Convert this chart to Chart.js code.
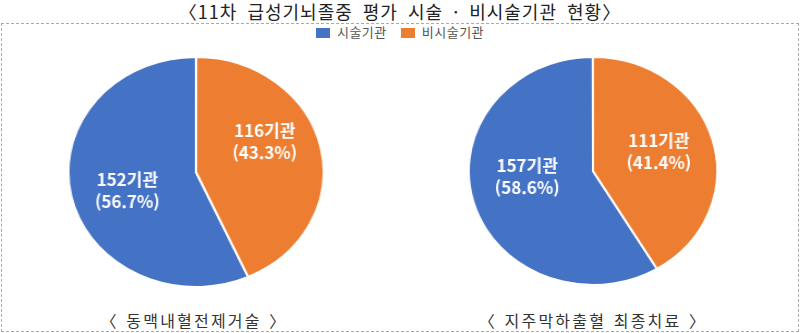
<!DOCTYPE html>
<html lang="ko">
<head>
<meta charset="utf-8">
<script src="https://cdn.jsdelivr.net/npm/chart.js@4/dist/chart.umd.min.js"></script>
<style>
  body { margin: 0; background: #fff; }
  #wrap { position: relative; width: 800px; height: 333px; overflow: hidden; font-family: "Noto Sans CJK KR", "Noto Sans", sans-serif; }
  #title { position: absolute; top: 0; left: 0; width: 800px; text-align: center; font-size: 18px; line-height: 23px; color: #222; letter-spacing: 1px; word-spacing: 4px; }
  #box { position: absolute; left: 1px; top: 23px; width: 796px; height: 307px; border: 1px dashed #aaa; }
  #legend { position: absolute; top: 24px; left: 0; width: 800px; text-align: center; font-size: 13px; line-height: 16px; color: #555; letter-spacing: 0.5px; }
  #legend span.sw { display: inline-block; width: 14px; height: 10px; vertical-align: -1px; margin-right: 7px; }
  #legend span.item { margin: 0 7px; }
  .pie { position: absolute; }
  .cap { position: absolute; top: 308px; width: 300px; text-align: center; font-size: 16px; color: #333; letter-spacing: 2.2px; word-spacing: 1px; }
</style>
</head>
<body>
<div id="wrap">
  <div id="title">〈11차 급성기뇌졸중 평가 시술 · 비시술기관 현황〉</div>
  <div id="box"></div>
  <div id="legend"></div>
  <canvas id="pie1" class="pie" width="232" height="232"></canvas>
  <canvas id="pie2" class="pie" width="230" height="230"></canvas>
  <div class="cap" id="cap1"></div>
  <div class="cap" id="cap2"></div>
</div>
<script>
const categories = ["시술기관", "비시술기관"];
const colors = ["#4472C4", "#ED7D31"];
const procedures = ["〈 동맥내혈전제거술 〉", "〈 지주막하출혈 최종치료 〉"];
const counts1 = [152, 116];
const percents1 = [56.7, 43.3];
const counts2 = [157, 111];
const percents2 = [58.6, 41.4];

// legend
const legend = document.getElementById("legend");
categories.forEach((c, i) => {
  const s = document.createElement("span");
  s.className = "item";
  s.innerHTML = `<span class="sw" style="background:${colors[i]}"></span>${c}`;
  legend.appendChild(s);
});

// slice labels, drawn unstretched
const labelPlugin = {
  id: "sliceLabels",
  afterDatasetsDraw(chart, args, opts) {
    const ctx = chart.ctx;
    const meta = chart.getDatasetMeta(0);
    const ds = chart.data.datasets[0];
    meta.data.forEach((arc, i) => {
      const mid = (arc.startAngle + arc.endAngle) / 2;
      const r = arc.outerRadius * 0.55;
      const x = arc.x + Math.cos(mid) * r;
      const y = arc.y + Math.sin(mid) * r + (opts.dy ? opts.dy[i] : 0);
      ctx.save();
      ctx.translate(x, y);
      ctx.scale(1 / opts.sx, 1);
      ctx.fillStyle = "#fff";
      ctx.font = 'bold 17px "Noto Sans CJK KR", sans-serif';
      ctx.textAlign = "center";
      ctx.textBaseline = "middle";
      ctx.fillText(ds.data[i] + "기관", 0, -11);
      ctx.fillText("(" + ds.pct[i].toFixed(1) + "%)", 0, 11);
      ctx.restore();
    });
  }
};

function makePie(id, counts, pcts, cx, cy, sx, dy) {
  const cv = document.getElementById(id);
  cv.style.left = (cx - cv.width / 2) + "px";
  cv.style.top = (cy - cv.height / 2) + "px";
  cv.style.transform = `scaleX(${sx})`;
  new Chart(cv, {
    type: "pie",
    data: {
      labels: categories,
      datasets: [{
        data: counts,
        pct: pcts,
        backgroundColor: colors,
        borderColor: "#fff",
        borderWidth: 2
      }]
    },
    options: {
      responsive: false,
      animation: false,
      rotation: pcts[1] * 3.6,
      layout: { padding: 0 },
      plugins: {
        legend: { display: false },
        tooltip: { enabled: false },
        sliceLabels: { sx: sx, dy: dy }
      }
    },
    plugins: [labelPlugin]
  });
}

makePie("pie1", counts1, percents1, 196, 172, 1.11, [5, -17]);
makePie("pie2", counts2, percents2, 593, 171, 1.09, [-11, -3]);

const cap1 = document.getElementById("cap1");
cap1.textContent = procedures[0];
cap1.style.left = (194 - 150) + "px";
const cap2 = document.getElementById("cap2");
cap2.textContent = procedures[1];
cap2.style.left = (593 - 150) + "px";
</script>
</body>
</html>
